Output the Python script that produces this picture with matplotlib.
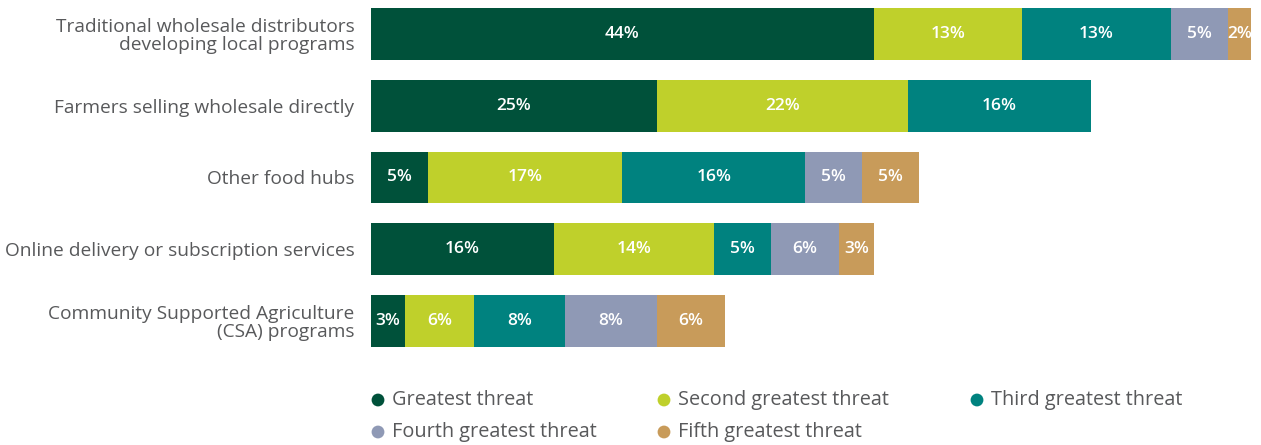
import matplotlib.pyplot as plt
import numpy as np

plt.rcParams['font.family'] = ['Open Sans', 'DejaVu Sans']

categories = [
    'Traditional wholesale distributors\ndeveloping local programs',
    'Farmers selling wholesale directly',
    'Other food hubs',
    'Online delivery or subscription services',
    'Community Supported Agriculture\n(CSA) programs',
]
series_names = ['Greatest threat', 'Second greatest threat', 'Third greatest threat',
                'Fourth greatest threat', 'Fifth greatest threat']
greatest = [44, 25, 5, 16, 3]
second = [13, 22, 17, 14, 6]
third = [13, 16, 16, 5, 8]
fourth = [5, 0, 5, 6, 8]
fifth = [2, 0, 5, 3, 6]
colors = ['#00513A', '#BFD02B', '#00827F', '#8F99B5', '#C89B5A']

series = [greatest, second, third, fourth, fifth]

fig = plt.figure(figsize=(12.61, 4.45), dpi=100)
ax = fig.add_axes([0.2942, 0.191, 0.7058, 0.809])

y = np.arange(len(categories))
left = np.zeros(len(categories))
for vals, name, col in zip(series, series_names, colors):
    vals = np.array(vals, dtype=float)
    ax.barh(y, vals, left=left, height=0.72, color=col, label=name)
    for yi, v, l in zip(y, vals, left):
        if v > 0:
            ax.text(l + v / 2, yi, f'{int(v)}%', ha='center', va='center',
                    color='white', fontsize=12.5, fontweight='semibold', clip_on=False)
    left += vals

ax.set_xlim(0, 77.9)
ax.set_ylim(4.544, -0.474)
ax.set_yticks(y)
ax.set_yticklabels(categories, fontsize=13.8, fontweight='medium',
                   color='#58595B', linespacing=1.0)
ax.tick_params(axis='y', length=0, pad=12)
ax.set_xticks([])
for s in ax.spines.values():
    s.set_visible(False)

# legend laid out on a grid below the bars
lax = fig.add_axes([0, 0, 1, 1])
lax.set_xlim(0, 1261)
lax.set_ylim(445, 0)
lax.axis('off')
legend_pos = [(378, 400), (664, 400), (977, 400), (378, 432), (664, 432)]
for (px, py), name, col in zip(legend_pos, series_names, colors):
    lax.scatter([px], [py], s=85, color=col, edgecolors='none')
    lax.text(px + 14, py, name, ha='left', va='center', fontsize=14.3,
             fontweight='medium', color='#58595B')

plt.savefig('out.png', dpi=100)
